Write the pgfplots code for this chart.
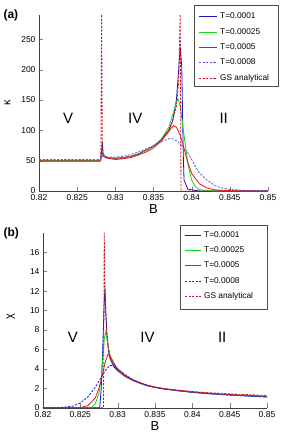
\documentclass[border=0pt]{standalone}
\usepackage{fontspec}
\setmainfont{Liberation Sans}
\usepackage{pgfplots}
\pgfplotsset{compat=1.18}
\definecolor{cA}{RGB}{20,20,200}
\definecolor{cB}{RGB}{20,215,20}
\definecolor{cC}{RGB}{235,20,20}
\definecolor{cD}{RGB}{90,90,225}
\definecolor{cDb}{RGB}{30,30,230}
\definecolor{cE}{RGB}{205,20,30}
\tikzset{
  sA/.style={draw=cA, color=cA, line width=0.8pt},
  sB/.style={draw=cB, color=cB, line width=0.8pt},
  sC/.style={draw=cC, color=cC, line width=0.8pt},
  sD/.style={draw=cD, color=cD, line width=0.8pt, dash pattern=on 2.2pt off 1.4pt},
  sDb/.style={draw=cDb, color=cDb, line width=0.8pt, dash pattern=on 2.2pt off 1.4pt},
  sE/.style={draw=cE, color=cE, line width=0.8pt, dash pattern=on 2.2pt off 1.4pt},
  lgt/.style={anchor=west, inner sep=0pt, font=\fontsize{8.3}{10}\selectfont},
}
\pgfplotsset{
  myax/.style={
    scale only axis,
    axis x line*=bottom, axis y line*=left,
    axis line style={black!75},
    tick align=inside,
    xmin=0.82, xmax=0.85,
    xtick={0.82,0.825,0.83,0.835,0.84,0.845,0.85},
    xticklabels={0.82,0.825,0.83,0.835,0.84,0.845,0.85},
    tick label style={font=\fontsize{8.5}{10}\selectfont},
    /pgf/number format/assume math mode=true,
    xlabel={B}, xlabel style={font=\fontsize{13}{14}\selectfont, yshift=3pt},
    ylabel style={font=\fontsize{11}{13}\selectfont},
    clip=true,
  },
}
\begin{document}
\begin{tikzpicture}
\path[use as bounding box] (0,0) rectangle (291pt,-447pt);
% ---------------- panel (a)
\begin{axis}[myax, at={(39pt,-191pt)}, anchor=south west,
  width=229pt, height=176pt,
  ymin=0, ymax=290, ytick={0,50,100,150,200,250},
  ylabel={κ}, ylabel style={at={(axis description cs:-0.11,0.5)}},
]
\addplot[sA] coordinates {(0.82,50) (0.828,50) (0.8282,65) (0.8283,80) (0.8284,62) (0.8286,57) (0.829,55) (0.830,54) (0.831,55) (0.832,57) (0.833,61) (0.834,67) (0.835,74) (0.836,84) (0.837,100) (0.8375,115) (0.838,150) (0.8383,200) (0.8385,238) (0.8387,205) (0.8389,60) (0.839,18) (0.8395,3) (0.841,0) (0.85,0)};
\addplot[sB] coordinates {(0.82,50) (0.828,50) (0.8282,58) (0.8283,63) (0.8286,57) (0.829,55) (0.830,54) (0.831,55) (0.832,57) (0.833,61) (0.834,67) (0.835,74) (0.836,85) (0.837,105) (0.8375,125) (0.838,146) (0.8382,152) (0.8385,140) (0.839,92) (0.8395,45) (0.840,18) (0.8405,7) (0.841,2) (0.843,0) (0.85,0)};
\addplot[sC] coordinates {(0.82,49) (0.828,49) (0.8282,56) (0.8283,61) (0.8286,56) (0.829,54) (0.830,52) (0.831,53) (0.832,55) (0.833,59) (0.834,64) (0.835,71) (0.836,82) (0.837,98) (0.8376,108) (0.838,105) (0.8385,92) (0.839,70) (0.8395,47) (0.840,29) (0.841,12) (0.842,5) (0.843,2) (0.845,0.5) (0.85,0)};
\addplot[sD] coordinates {(0.82,52) (0.828,52) (0.8282,57) (0.8283,61) (0.8286,58) (0.829,56) (0.830,56) (0.831,57) (0.832,60) (0.833,64) (0.834,69) (0.835,75) (0.836,81) (0.837,86) (0.8375,86) (0.838,83) (0.8385,77) (0.839,70) (0.8395,63) (0.840,52) (0.8405,40) (0.841,30) (0.842,18) (0.843,9) (0.844,5) (0.845,2.5) (0.847,1) (0.85,0.5)};
\addplot[sE] coordinates {(0.82,50) (0.8281,50) (0.8282,300) (0.8283,60) (0.8285,56) (0.829,54) (0.830,53) (0.831,54) (0.832,57) (0.833,61) (0.834,67) (0.835,74) (0.836,84) (0.837,100) (0.8375,115) (0.838,140) (0.8383,180) (0.8385,300) (0.8386,0) (0.85,0)};
\node[font=\fontsize{15}{16}\selectfont] at (axis cs:0.8238,120) {V};
\node[font=\fontsize{15}{16}\selectfont] at (axis cs:0.8326,120) {IV};
\node[font=\fontsize{15}{16}\selectfont] at (axis cs:0.8442,120) {II};
\end{axis}
\node[font=\bfseries\fontsize{12}{14}\selectfont, anchor=west] at (0pt,-15pt) {(a)};
% legend (a)
\draw[black!70, line width=0.5pt, fill=white] (194pt,-5pt) rectangle (278pt,-86pt);
\draw[sA] (199pt,-16pt) -- (217pt,-16pt); \node[lgt] at (220pt,-16pt) {T=0.0001};
\draw[sB] (199pt,-32pt) -- (217pt,-32pt); \node[lgt] at (220pt,-32pt) {T=0.00025};
\draw[sC] (199pt,-47pt) -- (217pt,-47pt); \node[lgt] at (220pt,-47pt) {T=0.0005};
\draw[sD] (199pt,-62pt) -- (217pt,-62pt); \node[lgt] at (220pt,-62pt) {T=0.0008};
\draw[sE] (199pt,-78pt) -- (217pt,-78pt); \node[lgt] at (220pt,-78pt) {GS analytical};
% ---------------- panel (b)
\begin{axis}[myax, at={(43pt,-407.7pt)}, anchor=south west,
  width=224pt, height=175pt,
  ymin=0, ymax=18, ytick={0,2,4,6,8,10,12,14,16},
  ylabel={χ}, ylabel style={at={(axis description cs:-0.11,0.52)}},
]
\addplot[sA] coordinates {(0.82,0) (0.8276,0) (0.8278,2) (0.828,6) (0.8282,11) (0.8283,12.3) (0.8284,10) (0.8286,7) (0.8288,5.7) (0.829,5.0) (0.8295,4.2) (0.830,3.8) (0.831,3.2) (0.832,2.8) (0.833,2.5) (0.834,2.25) (0.835,2.08) (0.836,1.95) (0.838,1.75) (0.840,1.58) (0.842,1.45) (0.845,1.3) (0.85,1.1)};
\addplot[sB] coordinates {(0.82,0) (0.8265,0) (0.827,0.4) (0.8275,1.5) (0.8278,3) (0.828,5) (0.8282,7) (0.8284,7.8) (0.8286,7) (0.8288,6) (0.829,5.3) (0.8295,4.4) (0.830,3.9) (0.831,3.25) (0.832,2.85) (0.833,2.55) (0.834,2.28) (0.835,2.1) (0.836,1.97) (0.838,1.77) (0.840,1.6) (0.842,1.48) (0.845,1.33) (0.85,1.15)};
\addplot[sC] coordinates {(0.82,0) (0.825,0) (0.826,0.2) (0.827,1.0) (0.8275,2) (0.828,3.5) (0.8283,4.6) (0.8287,5.5) (0.829,5.3) (0.8295,4.6) (0.830,4.0) (0.831,3.3) (0.832,2.85) (0.833,2.55) (0.834,2.28) (0.835,2.1) (0.836,1.97) (0.838,1.77) (0.840,1.62) (0.842,1.5) (0.845,1.35) (0.85,1.18)};
\addplot[sDb] coordinates {(0.82,0) (0.822,0) (0.824,0.15) (0.825,0.5) (0.826,1.1) (0.827,2.1) (0.828,3.4) (0.8285,4.0) (0.829,4.35) (0.8295,4.3) (0.830,4.0) (0.831,3.4) (0.832,2.9) (0.833,2.55) (0.834,2.28) (0.835,2.1) (0.836,1.95) (0.838,1.75) (0.840,1.58) (0.842,1.45) (0.845,1.3) (0.85,1.1)};
\addplot[sE] coordinates {(0.82,0) (0.8281,0) (0.8282,18) (0.8283,12) (0.8285,8) (0.8288,6) (0.829,5.2) (0.8295,4.4) (0.830,3.9) (0.831,3.3) (0.832,2.9) (0.833,2.6) (0.834,2.32) (0.835,2.15) (0.836,2.0) (0.838,1.82) (0.840,1.67) (0.842,1.56) (0.845,1.43) (0.85,1.26)};
\node[font=\fontsize{15}{16}\selectfont] at (axis cs:0.824,7.25) {V};
\node[font=\fontsize{15}{16}\selectfont] at (axis cs:0.834,7.25) {IV};
\node[font=\fontsize{15}{16}\selectfont] at (axis cs:0.844,7.25) {II};
\end{axis}
\node[font=\bfseries\fontsize{12}{14}\selectfont, anchor=west] at (0pt,-233pt) {(b)};
% legend (b)
\draw[black!70, line width=0.5pt, fill=white] (180pt,-225pt) rectangle (267pt,-309pt);
\draw[sA] (185pt,-235pt) -- (201pt,-235pt); \node[lgt] at (204pt,-235pt) {T=0.0001};
\draw[sB] (185pt,-250pt) -- (201pt,-250pt); \node[lgt] at (204pt,-250pt) {T=0.00025};
\draw[sC] (185pt,-265pt) -- (201pt,-265pt); \node[lgt] at (204pt,-265pt) {T=0.0005};
\draw[sDb] (185pt,-281pt) -- (201pt,-281pt); \node[lgt] at (204pt,-281pt) {T=0.0008};
\draw[sE] (185pt,-296pt) -- (201pt,-296pt); \node[lgt] at (204pt,-296pt) {GS analytical};
\end{tikzpicture}
\end{document}
